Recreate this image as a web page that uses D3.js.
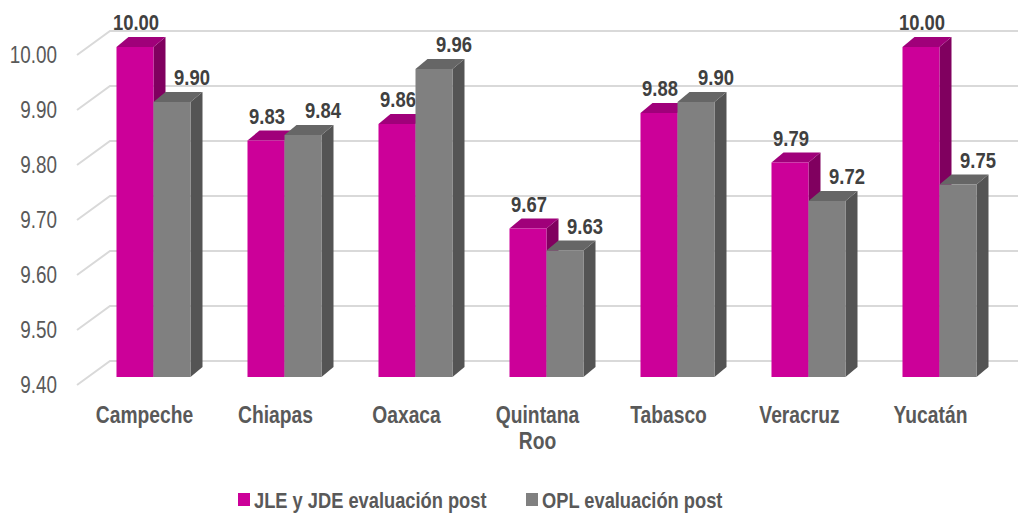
<!DOCTYPE html>
<html>
<head>
<meta charset="utf-8">
<script src="https://cdn.jsdelivr.net/npm/d3@7"></script>
<style>
  body { margin: 0; background: #fff; }
  svg { display: block; font-family: "Liberation Sans", Arial, sans-serif; }
</style>
</head>
<body>
<svg width="1018" height="514"></svg>
<script>
var states = ["Campeche", "Chiapas", "Oaxaca", "Quintana Roo", "Tabasco", "Veracruz", "Yucatán"];
var seriesNames = ["JLE y JDE evaluación post", "OPL evaluación post"];
var jleValues = [10.00, 9.83, 9.86, 9.67, 9.88, 9.79, 10.00];
var oplValues = [9.90, 9.84, 9.96, 9.63, 9.90, 9.72, 9.75];
var yTicks = [9.40, 9.50, 9.60, 9.70, 9.80, 9.90, 10.00];

var svg = d3.select("svg"),
    width = 1018,
    height = 514,
    narrow = 0.82; // no Arial Narrow here, so squeeze Liberation Sans

// colours per series: front, top, side
var colors = [
  { front: "#cc0099", top: "#a0007a", side: "#80005f" },
  { front: "#808080", top: "#666666", side: "#545454" }
];

// oblique 3d offsets
var wall = { dx: 33, dy: -24 },   // back wall relative to front plane
    barOff = { dx: 11, dy: -8 },  // bar front face relative to front plane
    barDepth = { dx: 12, dy: -10 };

var y = d3.scaleLinear().domain([9.4, 10.0]).range([385, 55]);

var x0 = d3.scaleBand().domain(states).range([77, 994]).padding(0);
var bw = x0.bandwidth(),
    inner = bw * 0.565;
var x1 = d3.scaleBand().domain([0, 1]).range([(bw - inner) / 2, (bw + inner) / 2]).padding(0);

function place(x, y) {
  return "translate(" + x + "," + y + ") scale(" + narrow + ",1)";
}

// gridlines: left side diagonal + back wall line
var grid = svg.append("g").attr("stroke", "#d9d9d9").attr("stroke-width", 2).attr("fill", "none");
yTicks.forEach(function(t) {
  var yf = y(t);
  grid.append("path")
    .attr("d", "M" + 77 + "," + yf + "L" + (77 + wall.dx) + "," + (yf + wall.dy) + "L" + (994 + wall.dx) + "," + (yf + wall.dy));
});

// tick labels
svg.append("g").selectAll("text")
  .data(yTicks)
  .enter().append("text")
  .attr("transform", function(d) { return place(57, y(d)); })
  .attr("dy", "0.36em")
  .attr("text-anchor", "end")
  .attr("font-size", 23)
  .attr("fill", "#595959")
  .text(function(d) { return d.toFixed(2); });

// bars
var rows = states.map(function(s, i) {
  return { state: s, values: [jleValues[i], oplValues[i]] };
});

var groups = svg.append("g").selectAll("g")
  .data(rows)
  .enter().append("g")
  .attr("transform", function(d) { return "translate(" + (x0(d.state) + barOff.dx) + "," + barOff.dy + ")"; });

var bars = groups.selectAll("g")
  .data(function(d) { return d.values.map(function(v, k) { return { k: k, v: v }; }); })
  .enter().append("g");

// grey bar drawn after magenta so it hides the magenta side
bars.each(function(d) {
  var g = d3.select(this),
      xl = x1(d.k),
      xr = xl + x1.bandwidth(),
      yt = y(d.v),
      yb = y(9.4),
      c = colors[d.k];
  g.append("path")
    .attr("fill", c.side)
    .attr("d", "M" + xr + "," + yt + "L" + (xr + barDepth.dx) + "," + (yt + barDepth.dy) +
      "L" + (xr + barDepth.dx) + "," + (yb + barDepth.dy) + "L" + xr + "," + yb + "Z");
  g.append("path")
    .attr("fill", c.top)
    .attr("d", "M" + xl + "," + yt + "L" + (xl + barDepth.dx) + "," + (yt + barDepth.dy) +
      "L" + (xr + barDepth.dx) + "," + (yt + barDepth.dy) + "L" + xr + "," + yt + "Z");
  g.append("rect")
    .attr("x", xl)
    .attr("y", yt)
    .attr("width", xr - xl)
    .attr("height", yb - yt)
    .attr("fill", c.front);
});

// value labels
bars.append("text")
  .attr("transform", function(d) {
    return place(x1(d.k) + x1.bandwidth() / 2 + (d.k ? 20 : 1), y(d.v) - 17);
  })
  .attr("text-anchor", "middle")
  .attr("font-size", 22.5)
  .attr("font-weight", "bold")
  .attr("fill", "#404040")
  .text(function(d) { return d.v.toFixed(2); });

// category labels
svg.append("g").selectAll("text")
  .data(states)
  .enter().append("text")
  .attr("transform", function(d) { return place(x0(d) + bw / 2 + 2, 423); })
  .attr("text-anchor", "middle")
  .attr("font-size", 23.5)
  .attr("font-weight", "bold")
  .attr("fill", "#595959")
  .each(function(d) {
    var t = d3.select(this),
        parts = d === "Quintana Roo" ? ["Quintana", "Roo"] : [d];
    parts.forEach(function(p, i) {
      t.append("tspan")
        .attr("x", 0)
        .attr("dy", i ? 26 : 0)
        .text(p);
    });
  });

// legend
var legendX = [238, 526];
var legend = svg.append("g").selectAll("g")
  .data(seriesNames)
  .enter().append("g")
  .attr("transform", function(d, i) { return "translate(" + legendX[i] + ",493)"; });

legend.append("rect")
  .attr("width", 12)
  .attr("height", 13)
  .attr("fill", function(d, i) { return colors[i].front; });

legend.append("text")
  .attr("transform", place(16, 15))
  .attr("font-size", 22.3)
  .attr("font-weight", "bold")
  .attr("fill", "#595959")
  .text(function(d) { return d; });
</script>
</body>
</html>
